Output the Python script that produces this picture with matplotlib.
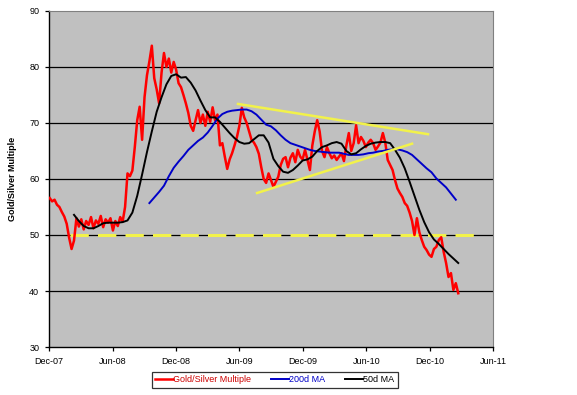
import numpy as np
import pandas as pd
import matplotlib
matplotlib.use("Agg")
import matplotlib.pyplot as plt
import matplotlib.dates as mdates

plt.rcParams['font.family'] = ['Liberation Sans', 'DejaVu Sans']

# gold/silver multiple, weekly readings from 3 Dec 2007
ratio_start = "2007-12-03"
ratio = [
    56.6, 56.0, 56.3, 55.4, 55.0, 54.1, 53.3, 52.0, 49.5, 47.5,
    49.0, 53.0, 51.5, 52.8, 51.0, 52.5, 51.8, 53.2, 51.2, 52.6,
    52.0, 53.4, 51.4, 52.8, 52.2, 53.0, 50.8, 52.5, 51.6, 53.2,
    52.4, 55.0, 61.0, 60.5, 61.5, 65.7, 70.5, 72.9, 67.0, 74.6,
    78.5, 81.0, 83.8, 78.0, 76.0, 73.5, 79.0, 82.5, 80.0, 81.5,
    79.0, 80.9, 79.5, 77.1, 76.4, 75.0, 73.5, 71.8, 69.5, 68.6,
    70.5, 72.3, 70.0, 71.5, 69.5, 72.0, 70.2, 72.8, 70.5, 71.5,
    66.0, 66.4, 64.0, 61.8, 63.5, 64.6, 66.0, 67.5, 69.5, 72.7,
    71.0, 70.0, 68.5, 67.0, 66.5, 65.7, 64.5, 62.1, 60.0, 59.3,
    61.0, 59.8, 58.6, 59.5, 60.4, 62.5, 63.6, 63.9, 62.1, 63.8,
    64.6, 63.0, 65.2, 64.0, 63.5, 65.2, 63.4, 61.6, 66.0, 68.5,
    70.5, 68.5, 65.0, 63.9, 65.7, 64.6, 63.7, 64.2, 63.4, 64.0,
    64.6, 63.2, 66.0, 68.2, 65.0, 66.4, 69.6, 66.4, 67.5, 66.8,
    65.7, 66.5, 67.0, 66.4, 65.2, 65.8, 66.5, 68.2, 66.5, 63.4,
    62.5, 61.6, 59.8, 58.3, 57.5, 56.8, 55.7, 55.2, 54.0, 52.5,
    50.0, 53.0, 50.5, 49.1, 47.9, 47.3, 46.5, 46.1, 47.5, 47.9,
    49.1, 49.6, 47.0, 45.0, 42.5, 43.2, 40.2, 41.4, 39.6,
]

# 50 day moving average, fortnightly readings
ma50_start = "2008-02-11"
ma50 = [
    53.6, 52.5, 51.6, 51.2, 51.2, 51.6, 52.1, 52.2, 52.2, 52.2,
    52.3, 52.6, 54.0, 57.0, 60.8, 64.8, 68.5, 72.0, 74.6, 76.9,
    78.4, 78.7, 78.1, 78.2, 77.2, 75.8, 74.0, 72.3, 71.0, 71.0,
    70.2, 69.2, 68.2, 67.3, 66.6, 66.3, 66.4, 67.1, 67.8, 67.8,
    66.5, 63.6, 62.3, 61.3, 61.1, 61.6, 62.4, 63.3, 63.5, 64.0,
    65.0, 65.7, 66.0, 66.4, 66.6, 66.3, 65.0, 64.4, 64.6, 65.3,
    65.9, 66.3, 66.5, 66.6, 66.6, 66.4, 65.2, 63.8, 61.9, 59.5,
    57.0, 54.5, 52.3, 50.5, 49.2, 48.4, 47.5, 46.6, 45.8, 45.0,
]

# 200 day moving average, fortnightly readings
ma200_start = "2008-09-15"
ma200 = [
    55.7, 56.7, 57.7, 58.8, 60.5, 62.0, 63.1, 64.1, 65.2, 66.0,
    66.8, 67.4, 68.3, 69.5, 70.8, 71.6, 72.0, 72.2, 72.3, 72.4,
    72.4, 72.1, 71.5, 70.6, 69.7, 69.4, 68.7, 67.8, 67.0, 66.4,
    66.1, 65.8, 65.5, 65.2, 65.0, 64.9, 64.8, 64.7, 64.7, 64.7,
    64.5, 64.3, 64.3, 64.3, 64.4, 64.6, 64.7, 64.9, 65.0, 65.2,
    65.3, 65.3, 65.1, 64.8, 64.3, 63.5, 62.7, 61.9, 61.2, 60.1,
    59.3, 58.5, 57.4, 56.3,
]

# hand drawn trend lines
upper_dates = ["2009-05-28", "2010-11-26"]
upper_vals = [73.4, 68.0]
lower_dates = ["2009-07-22", "2010-10-11"]
lower_vals = [57.5, 66.3]
support_dates = ["2008-01-30", "2011-04-19"]
support_vals = [50, 50]

ratio_x = pd.date_range(ratio_start, periods=len(ratio), freq="7D")
ma50_x = pd.date_range(ma50_start, periods=len(ma50), freq="14D")
ma200_x = pd.date_range(ma200_start, periods=len(ma200), freq="14D")

fig = plt.figure(figsize=(5.77, 3.95), dpi=100)
ax = fig.add_axes([0.0849, 0.1215, 0.7695, 0.8507])
ax.set_facecolor("#C0C0C0")

for v in [40, 50, 60, 70, 80]:
    ax.axhline(v, color="black", lw=0.9, zorder=1)

ax.plot(pd.to_datetime(support_dates), support_vals, color="#F2F24A", lw=2.2,
        dashes=(6, 3), zorder=2)
ax.plot(ratio_x, ratio, color="#FF0000", lw=1.8, zorder=3, label="Gold/Silver Multiple")
ax.plot(ma200_x, ma200, color="#0000C8", lw=1.4, zorder=4, label="200d MA")
ax.plot(ma50_x, ma50, color="black", lw=1.4, zorder=5, label="50d MA")
ax.plot(pd.to_datetime(upper_dates), upper_vals, color="#F2F24A", lw=1.8, zorder=6)
ax.plot(pd.to_datetime(lower_dates), lower_vals, color="#F2F24A", lw=1.8, zorder=6)

ax.set_ylim(30, 90)
ax.set_yticks(range(30, 91, 10))
ax.set_xlim(pd.Timestamp("2007-12-01"), pd.Timestamp("2011-06-01"))
ax.xaxis.set_major_locator(mdates.MonthLocator(bymonth=[6, 12], bymonthday=1))
ax.xaxis.set_major_formatter(mdates.DateFormatter("%b-%y"))
ax.tick_params(labelsize=6.5, length=3, width=0.9, colors="black", pad=4)

for s in ["top", "right"]:
    ax.spines[s].set_color("#808080")
    ax.spines[s].set_linewidth(0.8)
for s in ["left", "bottom"]:
    ax.spines[s].set_color("black")
    ax.spines[s].set_linewidth(1.0)

ax.set_ylabel("Gold/Silver Multiple", fontsize=6.5, fontweight="bold", labelpad=9)

leg = fig.legend(loc="center", bbox_to_anchor=(0.4766, 0.038), ncol=3,
                 fontsize=6.5, frameon=True, fancybox=False, edgecolor="black",
                 handlelength=2.0, handletextpad=0.0, columnspacing=2.2,
                 borderpad=0.35)
leg.get_frame().set_linewidth(0.9)
for t, c in zip(leg.get_texts(), ["#CC0000", "#0000C8", "black"]):
    t.set_color(c)

fig.savefig("out.png", dpi=100)
